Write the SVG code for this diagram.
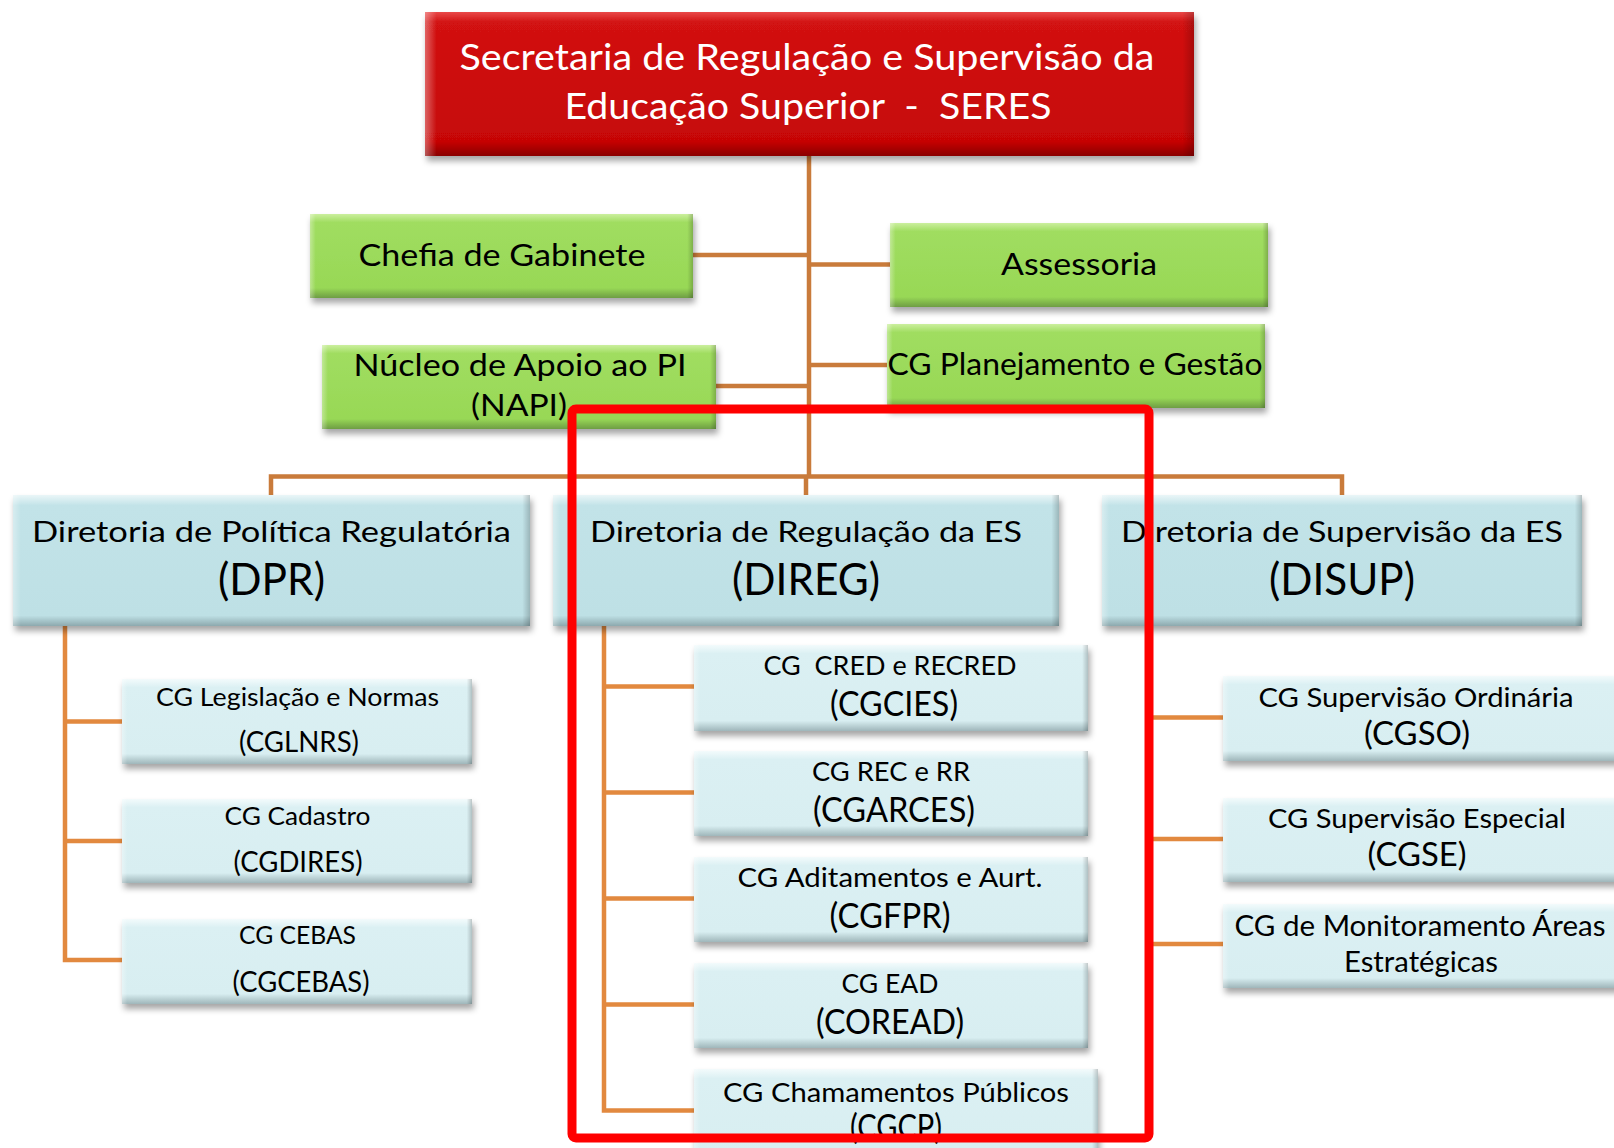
<svg xmlns="http://www.w3.org/2000/svg" width="1614" height="1148" viewBox="0 0 1614 1148">
<style>
text{font-family:Lato,"Open Sans","Liberation Sans",sans-serif;text-anchor:middle;fill:#000;white-space:pre}
.wt{fill:#fff}
.bx{filter:url(#sh)}
.ed{fill:url(#edge)}
.c1{stroke:#C97B3B;stroke-width:4.5;fill:none}
.c2{stroke:#E2893F;stroke-width:4.5;fill:none}
.t1{font-size:36px}
.tg{font-size:31.5px}
.td1{font-size:29.5px}
.td2{font-size:44px}
</style>
<defs>
<filter id="sh" x="-5%" y="-10%" width="112%" height="135%">
<feDropShadow dx="2" dy="5" stdDeviation="3" flood-color="#000" flood-opacity="0.35"/>
</filter>
<linearGradient id="gRed" x1="0" y1="0" x2="0" y2="1">
<stop offset="0" stop-color="#E94848"/><stop offset="0.07" stop-color="#D21212"/><stop offset="0.9" stop-color="#C60606"/><stop offset="1" stop-color="#8A0505"/>
</linearGradient>
<linearGradient id="gGreen" x1="0" y1="0" x2="0" y2="1">
<stop offset="0" stop-color="#CBEF9E"/><stop offset="0.1" stop-color="#A0DD60"/><stop offset="0.88" stop-color="#98D856"/><stop offset="1" stop-color="#6E9D44"/>
</linearGradient>
<linearGradient id="gDir" x1="0" y1="0" x2="0" y2="1">
<stop offset="0" stop-color="#EAF6F8"/><stop offset="0.08" stop-color="#C2E3E8"/><stop offset="0.92" stop-color="#BEE0E5"/><stop offset="1" stop-color="#8DA9AE"/>
</linearGradient>
<linearGradient id="gSub" x1="0" y1="0" x2="0" y2="1">
<stop offset="0" stop-color="#F3FBFC"/><stop offset="0.1" stop-color="#DBF0F3"/><stop offset="0.88" stop-color="#D8EEF1"/><stop offset="1" stop-color="#9FB6BA"/>
</linearGradient>
<linearGradient id="edge" x1="0" y1="0" x2="1" y2="0">
<stop offset="0" stop-color="#fff" stop-opacity="0.35"/><stop offset="0.015" stop-color="#fff" stop-opacity="0"/><stop offset="0.985" stop-color="#000" stop-opacity="0"/><stop offset="1" stop-color="#000" stop-opacity="0.2"/>
</linearGradient>
</defs>

<g id="connectors">
<path class="c1" d="M809 156V477"/>
<path class="c1" d="M693 255H809"/>
<path class="c1" d="M809 264.5H890"/>
<path class="c1" d="M716 386H809"/>
<path class="c1" d="M809 365H887"/>
<path class="c1" d="M271 495V476.5H1342V495"/>
<path class="c1" d="M806 477V495"/>
<path class="c2" d="M65 626V960H122"/>
<path class="c2" d="M65 721.5H122M65 841H122"/>
<path class="c2" d="M604 626V1110.5H694"/>
<path class="c2" d="M604 686.5H694M604 792.5H694M604 898.5H694M604 1004.5H694"/>
<path class="c2" d="M1150 626V944H1223"/>
<path class="c2" d="M1150 717.5H1223M1150 839H1223"/>
</g>

<g id="seres">
<rect class="bx" x="425" y="12" width="769" height="144" fill="url(#gRed)"/>
<rect class="ed" x="425" y="12" width="769" height="144"/>
<text class="t1 wt" x="807" y="70" textLength="695" lengthAdjust="spacingAndGlyphs">Secretaria de Regulação e Supervisão da</text>
<text class="t1 wt" x="808" y="119" textLength="487" lengthAdjust="spacingAndGlyphs">Educação Superior  -  SERES</text>
</g>

<g id="chefia">
<rect class="bx" x="310" y="214" width="383" height="84" fill="url(#gGreen)"/>
<rect class="ed" x="310" y="214" width="383" height="84"/>
<text class="tg" x="502" y="266" textLength="287" lengthAdjust="spacingAndGlyphs">Chefia de Gabinete</text>
</g>

<g id="assessoria">
<rect class="bx" x="890" y="223" width="378" height="84" fill="url(#gGreen)"/>
<rect class="ed" x="890" y="223" width="378" height="84"/>
<text class="tg" x="1079" y="275" textLength="156" lengthAdjust="spacingAndGlyphs">Assessoria</text>
</g>

<g id="napi">
<rect class="bx" x="322" y="345" width="394" height="84" fill="url(#gGreen)"/>
<rect class="ed" x="322" y="345" width="394" height="84"/>
<text class="tg" x="520" y="376" textLength="333" lengthAdjust="spacingAndGlyphs">Núcleo de Apoio ao PI</text>
<text class="tg" x="519" y="416" textLength="96" lengthAdjust="spacingAndGlyphs">(NAPI)</text>
</g>

<g id="cgpg">
<rect class="bx" x="887" y="324" width="378" height="84" fill="url(#gGreen)"/>
<rect class="ed" x="887" y="324" width="378" height="84"/>
<text class="tg" x="1075" y="375" textLength="375" lengthAdjust="spacingAndGlyphs">CG Planejamento e Gestão</text>
</g>

<g id="dpr">
<rect class="bx" x="13" y="495" width="517" height="131" fill="url(#gDir)"/>
<rect class="ed" x="13" y="495" width="517" height="131"/>
<text class="td1" x="271.5" y="542" textLength="479" lengthAdjust="spacingAndGlyphs">Diretoria de Política Regulatória</text>
<text class="td2" x="271.5" y="594.5" textLength="107" lengthAdjust="spacingAndGlyphs">(DPR)</text>
</g>

<g id="direg">
<rect class="bx" x="553" y="495" width="506" height="131" fill="url(#gDir)"/>
<rect class="ed" x="553" y="495" width="506" height="131"/>
<text class="td1" x="806" y="542" textLength="432" lengthAdjust="spacingAndGlyphs">Diretoria de Regulação da ES</text>
<text class="td2" x="806" y="594.5" textLength="148" lengthAdjust="spacingAndGlyphs">(DIREG)</text>
</g>

<g id="disup">
<rect class="bx" x="1102" y="495" width="480" height="131" fill="url(#gDir)"/>
<rect class="ed" x="1102" y="495" width="480" height="131"/>
<text class="td1" x="1342" y="542" textLength="442" lengthAdjust="spacingAndGlyphs">Diretoria de Supervisão da ES</text>
<text class="td2" x="1342" y="594.5" textLength="146" lengthAdjust="spacingAndGlyphs">(DISUP)</text>
</g>

<g id="cglnrs">
<rect class="bx" x="122" y="679" width="350" height="85" fill="url(#gSub)"/>
<rect class="ed" x="122" y="679" width="350" height="85"/>
<text x="297.5" y="706" font-size="25.5" textLength="283" lengthAdjust="spacingAndGlyphs">CG Legislação e Normas</text>
<text x="299" y="752" font-size="28.5" textLength="120" lengthAdjust="spacingAndGlyphs">(CGLNRS)</text>
</g>

<g id="cgdires">
<rect class="bx" x="122" y="799" width="350" height="84" fill="url(#gSub)"/>
<rect class="ed" x="122" y="799" width="350" height="84"/>
<text x="297.5" y="825" font-size="25.5" textLength="146" lengthAdjust="spacingAndGlyphs">CG Cadastro</text>
<text x="298" y="872" font-size="28.5" textLength="129" lengthAdjust="spacingAndGlyphs">(CGDIRES)</text>
</g>

<g id="cgcebas">
<rect class="bx" x="122" y="919" width="350" height="85" fill="url(#gSub)"/>
<rect class="ed" x="122" y="919" width="350" height="85"/>
<text x="297.5" y="944" font-size="25.5" textLength="117" lengthAdjust="spacingAndGlyphs">CG CEBAS</text>
<text x="301" y="992" font-size="28.5" textLength="137" lengthAdjust="spacingAndGlyphs">(CGCEBAS)</text>
</g>

<g id="cgcies">
<rect class="bx" x="694" y="645" width="394" height="86" fill="url(#gSub)"/>
<rect class="ed" x="694" y="645" width="394" height="86"/>
<text x="890" y="675" font-size="26.5" textLength="253" lengthAdjust="spacingAndGlyphs">CG  CRED e RECRED</text>
<text x="894" y="716" font-size="35" textLength="128" lengthAdjust="spacingAndGlyphs">(CGCIES)</text>
</g>

<g id="cgarces">
<rect class="bx" x="694" y="751" width="394" height="85" fill="url(#gSub)"/>
<rect class="ed" x="694" y="751" width="394" height="85"/>
<text x="891" y="781" font-size="26.5" textLength="158" lengthAdjust="spacingAndGlyphs">CG REC e RR</text>
<text x="894" y="822" font-size="35" textLength="162" lengthAdjust="spacingAndGlyphs">(CGARCES)</text>
</g>

<g id="cgfpr">
<rect class="bx" x="694" y="857" width="394" height="85" fill="url(#gSub)"/>
<rect class="ed" x="694" y="857" width="394" height="85"/>
<text x="890" y="887" font-size="26.5" textLength="305" lengthAdjust="spacingAndGlyphs">CG Aditamentos e Aurt.</text>
<text x="890" y="928" font-size="35" textLength="121" lengthAdjust="spacingAndGlyphs">(CGFPR)</text>
</g>

<g id="coread">
<rect class="bx" x="694" y="963" width="394" height="85" fill="url(#gSub)"/>
<rect class="ed" x="694" y="963" width="394" height="85"/>
<text x="890" y="993" font-size="26.5" textLength="97" lengthAdjust="spacingAndGlyphs">CG EAD</text>
<text x="890" y="1034" font-size="35" textLength="148" lengthAdjust="spacingAndGlyphs">(COREAD)</text>
</g>

<g id="cgcp">
<rect class="bx" x="694" y="1069" width="404" height="95" fill="url(#gSub)"/>
<rect class="ed" x="694" y="1069" width="404" height="95"/>
<text x="896" y="1102" font-size="26.5" textLength="346" lengthAdjust="spacingAndGlyphs">CG Chamamentos Públicos</text>
<text x="896" y="1139" font-size="35" textLength="92" lengthAdjust="spacingAndGlyphs">(CGCP)</text>
</g>

<g id="cgso">
<rect class="bx" x="1223" y="676" width="402" height="85" fill="url(#gSub)"/>
<rect class="ed" x="1223" y="676" width="402" height="85"/>
<text x="1416" y="706.5" font-size="27.5" textLength="315" lengthAdjust="spacingAndGlyphs">CG Supervisão Ordinária</text>
<text x="1417" y="745" font-size="33" textLength="106" lengthAdjust="spacingAndGlyphs">(CGSO)</text>
</g>

<g id="cgse">
<rect class="bx" x="1223" y="798" width="402" height="84" fill="url(#gSub)"/>
<rect class="ed" x="1223" y="798" width="402" height="84"/>
<text x="1417" y="827.5" font-size="27.5" textLength="298" lengthAdjust="spacingAndGlyphs">CG Supervisão Especial</text>
<text x="1417" y="866" font-size="33" textLength="99" lengthAdjust="spacingAndGlyphs">(CGSE)</text>
</g>

<g id="cgmae">
<rect class="bx" x="1223" y="904" width="402" height="84" fill="url(#gSub)"/>
<rect class="ed" x="1223" y="904" width="402" height="84"/>
<text x="1420" y="936" font-size="28.5" textLength="371" lengthAdjust="spacingAndGlyphs">CG de Monitoramento Áreas</text>
<text x="1421" y="972" font-size="28.5" textLength="154" lengthAdjust="spacingAndGlyphs">Estratégicas</text>
</g>

<g id="highlight">
<rect x="572" y="409" width="577" height="729" rx="4" fill="none" stroke="#FF0000" stroke-width="9"/>
</g>
</svg>
